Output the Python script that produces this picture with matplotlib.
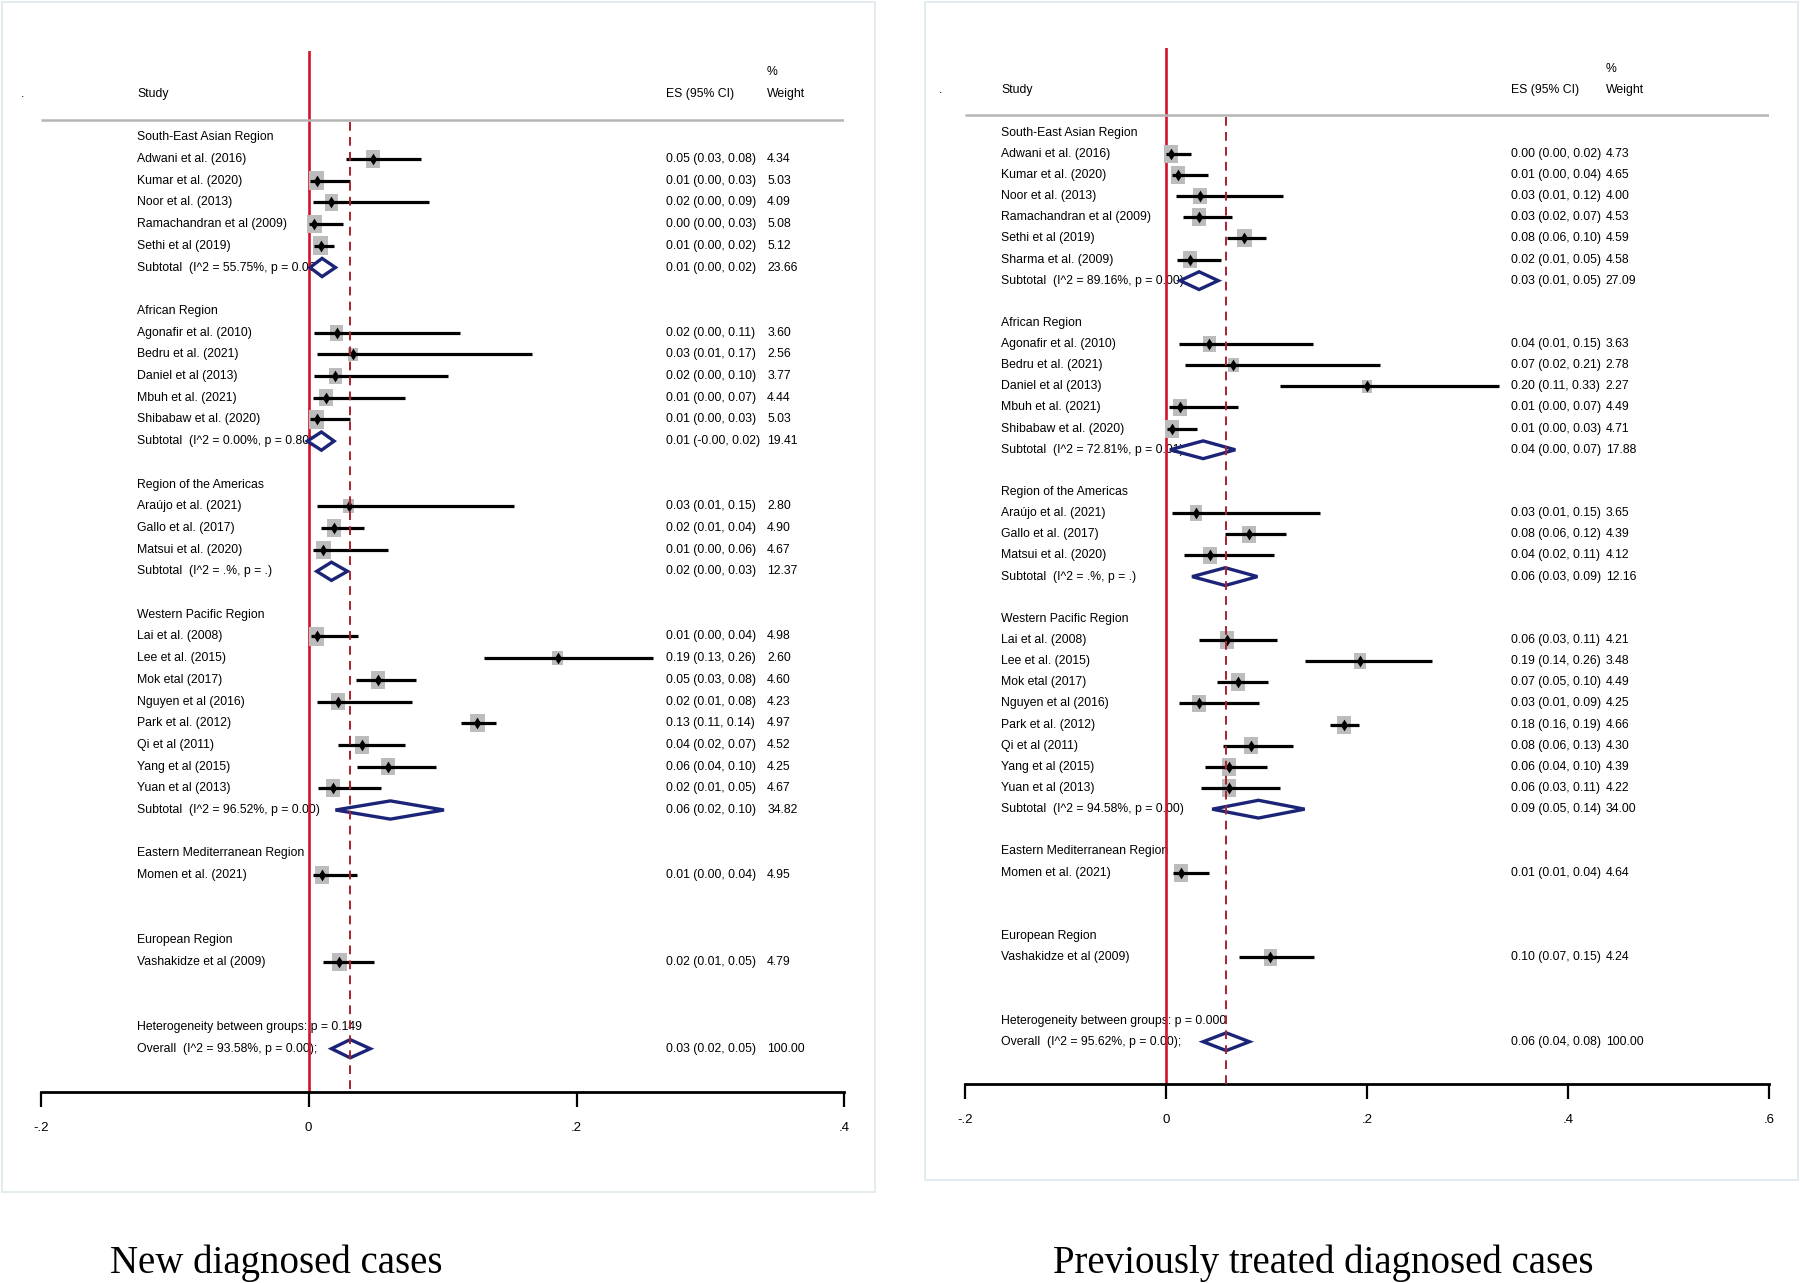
import matplotlib.pyplot as plt
from matplotlib.patches import Polygon, Rectangle

REGIONS = ["South-East Asian Region", "African Region", "Region of the Americas",
           "Western Pacific Region", "Eastern Mediterranean Region", "European Region"]

# ---- New diagnosed cases (left panel) ----
new_study = ["Adwani et al. (2016)", "Kumar et al. (2020)", "Noor et al. (2013)",
             "Ramachandran et al (2009)", "Sethi et al (2019)",
             "Agonafir et al. (2010)", "Bedru et al. (2021)", "Daniel et al (2013)",
             "Mbuh et al. (2021)", "Shibabaw et al. (2020)",
             "Araújo et al. (2021)", "Gallo et al. (2017)", "Matsui et al. (2020)",
             "Lai et al. (2008)", "Lee et al. (2015)", "Mok etal (2017)", "Nguyen et al (2016)",
             "Park et al. (2012)", "Qi et al (2011)", "Yang et al (2015)", "Yuan et al (2013)",
             "Momen et al. (2021)", "Vashakidze et al (2009)"]
new_region = [0] * 5 + [1] * 5 + [2] * 3 + [3] * 8 + [4] + [5]
new_es = [0.048, 0.006, 0.017, 0.004, 0.009, 0.021, 0.033, 0.020, 0.013, 0.006,
          0.030, 0.019, 0.011, 0.006, 0.186, 0.052, 0.022, 0.126, 0.040, 0.059,
          0.018, 0.010, 0.023]
new_lo = [0.028, 0.001, 0.003, 0.000, 0.004, 0.004, 0.006, 0.004, 0.003, 0.001,
          0.006, 0.009, 0.003, 0.002, 0.131, 0.035, 0.006, 0.114, 0.022, 0.036,
          0.007, 0.003, 0.011]
new_hi = [0.084, 0.031, 0.090, 0.026, 0.019, 0.113, 0.167, 0.104, 0.072, 0.031,
          0.153, 0.041, 0.059, 0.037, 0.257, 0.080, 0.077, 0.140, 0.072, 0.095,
          0.054, 0.036, 0.049]
new_wt = [4.34, 5.03, 4.09, 5.08, 5.12, 3.60, 2.56, 3.77, 4.44, 5.03, 2.80, 4.90,
          4.67, 4.98, 2.60, 4.60, 4.23, 4.97, 4.52, 4.25, 4.67, 4.95, 4.79]
new_ci_txt = ["0.05 (0.03, 0.08)", "0.01 (0.00, 0.03)", "0.02 (0.00, 0.09)",
              "0.00 (0.00, 0.03)", "0.01 (0.00, 0.02)", "0.02 (0.00, 0.11)",
              "0.03 (0.01, 0.17)", "0.02 (0.00, 0.10)", "0.01 (0.00, 0.07)",
              "0.01 (0.00, 0.03)", "0.03 (0.01, 0.15)", "0.02 (0.01, 0.04)",
              "0.01 (0.00, 0.06)", "0.01 (0.00, 0.04)", "0.19 (0.13, 0.26)",
              "0.05 (0.03, 0.08)", "0.02 (0.01, 0.08)", "0.13 (0.11, 0.14)",
              "0.04 (0.02, 0.07)", "0.06 (0.04, 0.10)", "0.02 (0.01, 0.05)",
              "0.01 (0.00, 0.04)", "0.02 (0.01, 0.05)"]
new_sub_es = [0.010, 0.0095, 0.017, 0.061]
new_sub_lo = [0.001, -0.001, 0.006, 0.020]
new_sub_hi = [0.020, 0.019, 0.029, 0.101]
new_sub_wt = [23.66, 19.41, 12.37, 34.82]
new_sub_het = ["I^2 = 55.75%, p = 0.06", "I^2 = 0.00%, p = 0.80",
               "I^2 = .%, p = .", "I^2 = 96.52%, p = 0.00"]
new_sub_txt = ["0.01 (0.00, 0.02)", "0.01 (-0.00, 0.02)", "0.02 (0.00, 0.03)",
               "0.06 (0.02, 0.10)"]
new_overall = [0.031, 0.017, 0.046]
new_overall_txt = "0.03 (0.02, 0.05)"
new_overall_het = "I^2 = 93.58%, p = 0.00"
new_between = "p = 0.149"

# ---- Previously treated diagnosed cases (right panel) ----
prev_study = ["Adwani et al. (2016)", "Kumar et al. (2020)", "Noor et al. (2013)",
              "Ramachandran et al (2009)", "Sethi et al (2019)", "Sharma et al. (2009)",
              "Agonafir et al. (2010)", "Bedru et al. (2021)", "Daniel et al (2013)",
              "Mbuh et al. (2021)", "Shibabaw et al. (2020)",
              "Araújo et al. (2021)", "Gallo et al. (2017)", "Matsui et al. (2020)",
              "Lai et al. (2008)", "Lee et al. (2015)", "Mok etal (2017)", "Nguyen et al (2016)",
              "Park et al. (2012)", "Qi et al (2011)", "Yang et al (2015)", "Yuan et al (2013)",
              "Momen et al. (2021)", "Vashakidze et al (2009)"]
prev_region = [0] * 6 + [1] * 5 + [2] * 3 + [3] * 8 + [4] + [5]
prev_es = [0.005, 0.012, 0.034, 0.033, 0.078, 0.024, 0.043, 0.067, 0.200, 0.014,
           0.006, 0.030, 0.083, 0.044, 0.061, 0.193, 0.072, 0.033, 0.177, 0.085,
           0.063, 0.063, 0.015, 0.104]
prev_lo = [0.000, 0.006, 0.010, 0.017, 0.061, 0.011, 0.013, 0.019, 0.113, 0.003,
           0.001, 0.006, 0.059, 0.018, 0.033, 0.138, 0.051, 0.013, 0.163, 0.057,
           0.039, 0.035, 0.007, 0.073]
prev_hi = [0.025, 0.042, 0.116, 0.066, 0.100, 0.055, 0.146, 0.213, 0.331, 0.072,
           0.031, 0.153, 0.119, 0.107, 0.110, 0.265, 0.102, 0.093, 0.192, 0.126,
           0.101, 0.113, 0.043, 0.147]
prev_wt = [4.73, 4.65, 4.00, 4.53, 4.59, 4.58, 3.63, 2.78, 2.27, 4.49, 4.71, 3.65,
           4.39, 4.12, 4.21, 3.48, 4.49, 4.25, 4.66, 4.30, 4.39, 4.22, 4.64, 4.24]
prev_ci_txt = ["0.00 (0.00, 0.02)", "0.01 (0.00, 0.04)", "0.03 (0.01, 0.12)",
               "0.03 (0.02, 0.07)", "0.08 (0.06, 0.10)", "0.02 (0.01, 0.05)",
               "0.04 (0.01, 0.15)", "0.07 (0.02, 0.21)", "0.20 (0.11, 0.33)",
               "0.01 (0.00, 0.07)", "0.01 (0.00, 0.03)", "0.03 (0.01, 0.15)",
               "0.08 (0.06, 0.12)", "0.04 (0.02, 0.11)", "0.06 (0.03, 0.11)",
               "0.19 (0.14, 0.26)", "0.07 (0.05, 0.10)", "0.03 (0.01, 0.09)",
               "0.18 (0.16, 0.19)", "0.08 (0.06, 0.13)", "0.06 (0.04, 0.10)",
               "0.06 (0.03, 0.11)", "0.01 (0.01, 0.04)", "0.10 (0.07, 0.15)"]
prev_sub_es = [0.033, 0.037, 0.059, 0.092]
prev_sub_lo = [0.014, 0.004, 0.026, 0.046]
prev_sub_hi = [0.052, 0.069, 0.091, 0.138]
prev_sub_wt = [27.09, 17.88, 12.16, 34.00]
prev_sub_het = ["I^2 = 89.16%, p = 0.00", "I^2 = 72.81%, p = 0.01",
                "I^2 = .%, p = .", "I^2 = 94.58%, p = 0.00"]
prev_sub_txt = ["0.03 (0.01, 0.05)", "0.04 (0.00, 0.07)", "0.06 (0.03, 0.09)",
                "0.09 (0.05, 0.14)"]
prev_overall = [0.060, 0.037, 0.083]
prev_overall_txt = "0.06 (0.04, 0.08)"
prev_overall_het = "I^2 = 95.62%, p = 0.00"
prev_between = "p = 0.000"

plt.rcParams['font.family'] = ['Liberation Sans', 'DejaVu Sans']

W, H = 1800, 1283
fig = plt.figure(figsize=(W / 100, H / 100), dpi=100)

RECT_MK = [(-0.4, -0.5), (0.4, -0.5), (0.4, 0.5), (-0.4, 0.5)]
DIAM_MK = [(0, -0.5), (0.31, 0), (0, 0.5), (-0.31, 0)]
NAVY = '#1b2477'
FS = 8.8


def layout(region):
    head, rows, subs = [], [], []
    r = 0
    for g in range(len(REGIONS)):
        n = region.count(g)
        head.append(r)
        r += 1
        rows += list(range(r, r + n))
        r += n
        if n > 1:
            subs.append(r)
        r += 2
    return head, rows, subs, r, r + 1


def draw_panel(box, xlim, ticks, cols, study, region, es, lo, hi, wt, ci_txt,
               s_es, s_lo, s_hi, s_wt, s_het, s_txt, ov, ov_txt, ov_het, between):
    x0, x1, y0, y1 = box
    ax = fig.add_axes([x0 / W, 1 - y1 / H, (x1 - x0) / W, (y1 - y0) / H])
    head, rows, subs, het_row, ov_row = layout(region)
    axis_row = ov_row + 2
    ax.set_xlim(*xlim)
    ax.set_ylim(axis_row, -4)
    xs, xe, xw, xd = cols
    hline_row = -0.82

    # header
    ax.text(xd, -2, ".", fontsize=FS, va='center')
    ax.text(xs, -2, "Study", fontsize=FS, va='center')
    ax.text(xe, -2, "ES (95% CI)", fontsize=FS, va='center')
    ax.text(xw, -3, "%", fontsize=FS, va='center')
    ax.text(xw, -2, "Weight", fontsize=FS, va='center')
    ax.hlines(hline_row, xlim[0], xlim[1], color='#b5b5b5', lw=1.8, zorder=2)

    for g, r in enumerate(head):
        ax.text(xs, r, REGIONS[g], fontsize=FS, va='center', zorder=1)
    for i, r in enumerate(rows):
        ax.text(xs, r, study[i], fontsize=FS, va='center', zorder=1)
        ax.text(xe, r, ci_txt[i], fontsize=FS, va='center', zorder=1)
        ax.text(xw, r, f"{wt[i]:.2f}", fontsize=FS, va='center', zorder=1)
    for k, r in enumerate(subs):
        ax.text(xs, r, f"Subtotal  ({s_het[k]})", fontsize=FS, va='center', zorder=1)
        ax.text(xe, r, s_txt[k], fontsize=FS, va='center', zorder=1)
        ax.text(xw, r, f"{s_wt[k]:.2f}", fontsize=FS, va='center', zorder=1)
    ax.text(xs, het_row, f"Heterogeneity between groups: {between}", fontsize=FS,
            va='center', zorder=1)
    ax.text(xs, ov_row, f"Overall  ({ov_het});", fontsize=FS, va='center', zorder=1)
    ax.text(xe, ov_row, ov_txt, fontsize=FS, va='center', zorder=1)
    ax.text(xw, ov_row, "100.00", fontsize=FS, va='center', zorder=1)

    # reference lines
    ax.axvline(0, color='#d4122b', lw=1.9, zorder=1.5)
    ax.vlines(ov[0], hline_row + 0.1, axis_row, color='#a8232e', lw=1.4,
              linestyles=(0, (4.5, 3.2)), zorder=7)

    # studies
    ax.scatter(es, rows, s=[36 * w for w in wt], marker=RECT_MK, color='#bcbcbc',
               linewidths=0, zorder=3)
    ax.hlines(rows, lo, hi, color='black', lw=2.3, zorder=4)
    ax.scatter(es, rows, s=72, marker=DIAM_MK, color='black', linewidths=0, zorder=5)

    # pooled diamonds
    h = 0.42
    for e, l, u, r in zip(s_es + [ov[0]], s_lo + [ov[1]], s_hi + [ov[2]], subs + [ov_row]):
        ax.add_patch(Polygon([(l, r), (e, r - h), (u, r), (e, r + h)], closed=True,
                             facecolor='white', edgecolor=NAVY, lw=2.4, zorder=6))

    for s in ['top', 'left', 'right']:
        ax.spines[s].set_visible(False)
    ax.spines['bottom'].set_linewidth(2.0)
    ax.set_yticks([])
    ax.set_xticks(ticks)
    ax.set_xticklabels([f"{t:.1f}".replace("0.", ".") if t != 0 else "0" for t in ticks])
    ax.tick_params(axis='x', direction='out', length=10.8, width=1.6, pad=11,
                   labelsize=9.5)
    ax.patch.set_alpha(0)
    return ax


draw_panel((40.8, 844.4, 50.5, 1092.1), (-0.2, 0.4), [-0.2, 0, 0.2, 0.4],
           (-0.1281, 0.2667, 0.3423, -0.2148),
           new_study, new_region, new_es, new_lo, new_hi, new_wt, new_ci_txt,
           new_sub_es, new_sub_lo, new_sub_hi, new_sub_wt, new_sub_het, new_sub_txt,
           new_overall, new_overall_txt, new_overall_het, new_between)

draw_panel((964.9, 1769.1, 48.1, 1084.0), (-0.2, 0.6), [-0.2, 0, 0.2, 0.4, 0.6],
           (-0.1638, 0.3432, 0.4375, -0.2255),
           prev_study, prev_region, prev_es, prev_lo, prev_hi, prev_wt, prev_ci_txt,
           prev_sub_es, prev_sub_lo, prev_sub_hi, prev_sub_wt, prev_sub_het, prev_sub_txt,
           prev_overall, prev_overall_txt, prev_overall_het, prev_between)

# panel frames
for (bx0, by0, bx1, by1) in [(2, 2, 875, 1192), (925, 2, 1798, 1180)]:
    fig.add_artist(Rectangle((bx0 / W, 1 - by1 / H), (bx1 - bx0) / W, (by1 - by0) / H,
                             transform=fig.transFigure, fill=False,
                             edgecolor='#e1eaed', lw=1.3))

fig.text(276 / W, 1 - 1263 / H, "New diagnosed cases", family='Liberation Serif',
         fontsize=28, ha='center', va='center')
fig.text(1323 / W, 1 - 1263 / H, "Previously treated diagnosed cases",
         family='Liberation Serif', fontsize=28, ha='center', va='center')

fig.savefig('out.png', dpi=100)
